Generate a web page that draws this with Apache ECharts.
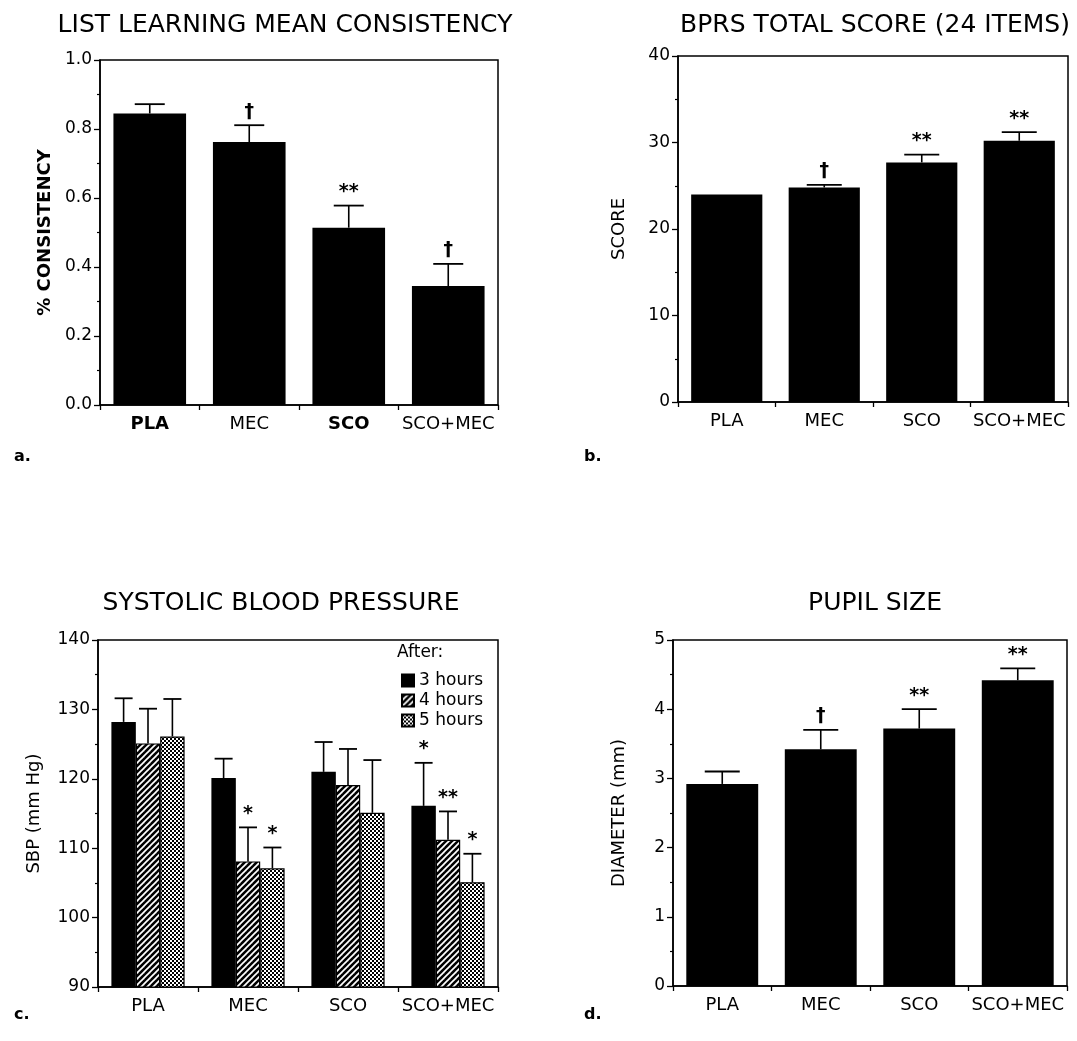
<!DOCTYPE html>
<html>
<head>
<meta charset="utf-8">
<script src="https://cdn.jsdelivr.net/npm/echarts@6/dist/echarts.min.js"></script>
<style>
  html, body { margin: 0; padding: 0; background: #fff; }
  #main { width: 1077px; height: 1041px; }
</style>
</head>
<body>
<div id="main"></div>
<script>
// categories
var cats = ['PLA', 'MEC', 'SCO', 'SCO+MEC'];

// a. list learning mean consistency
var consistMean = [0.845, 0.762, 0.514, 0.345];
var consistErr = [0.027, 0.049, 0.064, 0.064];
var consistSig = ['', '†', '**', '†'];

// b. BPRS total score
var bprsMean = [24.0, 24.8, 27.7, 30.2];
var bprsErr = [0, 0.3, 0.9, 1.0];
var bprsSig = ['', '†', '**', '**'];

// c. systolic blood pressure
var sbp3 = [128.2, 120.1, 121.0, 116.1];
var sbp3Err = [3.4, 2.8, 4.3, 6.2];
var sbp3Sig = ['', '', '', '*'];
var sbp4 = [125.1, 108.1, 119.1, 111.2];
var sbp4Err = [5.0, 4.9, 5.2, 4.1];
var sbp4Sig = ['', '*', '', '**'];
var sbp5 = [126.1, 107.1, 115.1, 105.1];
var sbp5Err = [5.4, 3.0, 7.6, 4.1];
var sbp5Sig = ['', '*', '', '*'];
var hourNames = ['3 hours', '4 hours', '5 hours'];

// d. pupil size
var pupilMean = [2.92, 3.42, 3.72, 4.42];
var pupilErr = [0.18, 0.28, 0.28, 0.17];
var pupilSig = ['', '†', '**', '**'];

var FONT = '"DejaVu Sans", sans-serif';

// diagonal hatch fill
function makeHatch() {
    var c = document.createElement('canvas');
    c.width = 6; c.height = 6;
    var g = c.getContext('2d');
    g.fillStyle = '#000';
    g.fillRect(0, 0, 6, 6);
    g.strokeStyle = '#fff';
    g.lineWidth = 1.7;
    [[0, 6, 6, 0], [-3, 3, 3, -3], [3, 9, 9, 3]].forEach(function (l) {
        g.beginPath(); g.moveTo(l[0], l[1]); g.lineTo(l[2], l[3]); g.stroke();
    });
    return c;
}

// fine checker fill
function makeChecker() {
    var c = document.createElement('canvas');
    c.width = 4; c.height = 4;
    var g = c.getContext('2d');
    g.fillStyle = '#fff';
    g.fillRect(0, 0, 4, 4);
    g.fillStyle = '#000';
    g.fillRect(0, 0, 2, 2);
    g.fillRect(2, 2, 2, 2);
    return c;
}

// error bar + significance mark, drawn through the axes
function errSeries(gi, mean, err, sig, k, n, frac, capW) {
    var data = mean.map(function (m, i) { return [i, m, m + err[i]]; });
    return {
        type: 'custom',
        xAxisIndex: gi, yAxisIndex: gi,
        data: data,
        encode: { x: 0, y: [1, 2] },
        z: 5,
        silent: true,
        renderItem: function (params, api) {
            var i = api.value(0);
            var p0 = api.coord([i, api.value(1)]);
            var p1 = api.coord([i, api.value(2)]);
            var band = api.size([1, 0])[0];
            var cx = p0[0] + (k - (n - 1) / 2) * band * frac;
            var kids = [];
            if (api.value(2) > api.value(1)) {
                kids.push({ type: 'line', shape: { x1: cx, y1: p0[1], x2: cx, y2: p1[1] },
                    style: { stroke: '#000', lineWidth: 1.6 } });
                kids.push({ type: 'line', shape: { x1: cx - capW / 2, y1: p1[1], x2: cx + capW / 2, y2: p1[1] },
                    style: { stroke: '#000', lineWidth: 1.8 } });
            }
            var s = sig[params.dataIndex];
            if (s) {
                kids.push({ type: 'text', x: cx, y: p1[1] - 4,
                    style: { text: s, fill: '#000', font: 'bold 19px ' + FONT,
                        align: 'center', verticalAlign: 'bottom' } });
            }
            return { type: 'group', children: kids };
        }
    };
}

function yAx(gi, min, max, interval, name, gap, bold, digits) {
    return {
        type: 'value', gridIndex: gi, min: min, max: max, interval: interval,
        name: name, nameLocation: 'middle', nameGap: gap, nameRotate: 90,
        nameTextStyle: { fontFamily: FONT, fontSize: 18, fontWeight: bold ? 'bold' : 'normal', color: '#000' },
        axisLine: { show: true, lineStyle: { color: '#000', width: 1.5 } },
        axisTick: { show: true, length: 6, lineStyle: { color: '#000', width: 1.3 } },
        minorTick: { show: true, splitNumber: 2, length: 3, lineStyle: { color: '#000', width: 1.2 } },
        splitLine: { show: false },
        axisLabel: { fontFamily: FONT, fontSize: 17, color: '#000', margin: 8,
            formatter: function (v) { return v.toFixed(digits); } }
    };
}

function xAx(gi, boldLabels) {
    return {
        type: 'category', gridIndex: gi, data: cats,
        axisLine: { show: true, lineStyle: { color: '#000', width: 1.5 } },
        axisTick: { show: true, length: 5, lineStyle: { color: '#000', width: 1.3 } },
        axisLabel: {
            fontFamily: FONT, fontSize: 18, color: '#000', margin: 10, interval: 0,
            formatter: function (v) { return boldLabels && (v === 'PLA' || v === 'SCO') ? '{b|' + v + '}' : v; },
            rich: { b: { fontFamily: FONT, fontSize: 18, fontWeight: 'bold', color: '#000' } }
        }
    };
}

function boxGrid(left, top, width, height) {
    return { left: left, top: top, width: width, height: height, show: true,
        borderColor: '#000', borderWidth: 1.5, backgroundColor: 'transparent' };
}

function title(text, x, y) {
    return { text: text, left: x, top: y, textAlign: 'center',
        textStyle: { fontFamily: FONT, fontSize: 25, fontWeight: 'normal', color: '#000' } };
}

function panelTag(text, x, y) {
    return { type: 'text', left: x, top: y,
        style: { text: text, font: 'bold 16px ' + FONT, fill: '#000' } };
}

var hatch = makeHatch();
var checker = makeChecker();
var fills = ['#000', { image: hatch, repeat: 'repeat' }, { image: checker, repeat: 'repeat' }];
var sbpVals = [sbp3, sbp4, sbp5];
var sbpErrs = [sbp3Err, sbp4Err, sbp5Err];
var sbpSigs = [sbp3Sig, sbp4Sig, sbp5Sig];
var C_FRAC = 0.244;

var series = [
    { type: 'bar', xAxisIndex: 0, yAxisIndex: 0, data: consistMean, barWidth: '73%',
      itemStyle: { color: '#000' } },
    errSeries(0, consistMean, consistErr, consistSig, 0, 1, 0, 30),
    { type: 'bar', xAxisIndex: 1, yAxisIndex: 1, data: bprsMean, barWidth: '73%',
      itemStyle: { color: '#000' } },
    errSeries(1, bprsMean, bprsErr, bprsSig, 0, 1, 0, 35),
    { type: 'bar', xAxisIndex: 3, yAxisIndex: 3, data: pupilMean, barWidth: '73%',
      itemStyle: { color: '#000' } },
    errSeries(3, pupilMean, pupilErr, pupilSig, 0, 1, 0, 35)
];
sbpVals.forEach(function (vals, k) {
    series.push({ type: 'bar', name: hourNames[k], xAxisIndex: 2, yAxisIndex: 2, data: vals,
        barWidth: (C_FRAC * 100) + '%', barGap: '0%',
        itemStyle: { color: fills[k], borderColor: '#000', borderWidth: 1.2 } });
});
sbpVals.forEach(function (vals, k) {
    series.push(errSeries(2, vals, sbpErrs[k], sbpSigs[k], k, 3, C_FRAC, 18));
});

var myChart = echarts.init(document.getElementById('main'), null, { renderer: 'canvas' });
var option = {
    backgroundColor: '#fff',
    animation: false,
    title: [
        title('LIST LEARNING MEAN CONSISTENCY', 280, 8),
        title('BPRS TOTAL SCORE (24 ITEMS)', 870, 8),
        title('SYSTOLIC BLOOD PRESSURE', 276, 586),
        title('PUPIL SIZE', 870, 586)
    ],
    grid: [
        boxGrid(100, 60, 398, 345),
        boxGrid(678, 56, 390, 346),
        boxGrid(98, 640, 400, 347),
        boxGrid(673, 640, 394, 346)
    ],
    xAxis: [xAx(0, true), xAx(1, false), xAx(2, false), xAx(3, false)],
    yAxis: [
        yAx(0, 0, 1, 0.2, '% CONSISTENCY', 46, true, 1),
        yAx(1, 0, 40, 10, 'SCORE', 50, false, 0),
        yAx(2, 90, 140, 10, 'SBP (mm Hg)', 55, false, 0),
        yAx(3, 0, 5, 1, 'DIAMETER (mm)', 45, false, 0)
    ],
    legend: {
        data: hourNames, orient: 'vertical', left: 396, top: 667,
        icon: 'rect', itemWidth: 12, itemHeight: 12, itemGap: 3,
        textStyle: { fontFamily: FONT, fontSize: 17, color: '#000', lineHeight: 17 }
    },
    graphic: [
        { type: 'text', left: 397, top: 644,
          style: { text: 'After:', font: '17px ' + FONT, fill: '#000' } },
        panelTag('a.', 14, 449),
        panelTag('b.', 584, 449),
        panelTag('c.', 14, 1007),
        panelTag('d.', 584, 1007)
    ],
    series: series
};
myChart.setOption(option);
</script>
</body>
</html>
